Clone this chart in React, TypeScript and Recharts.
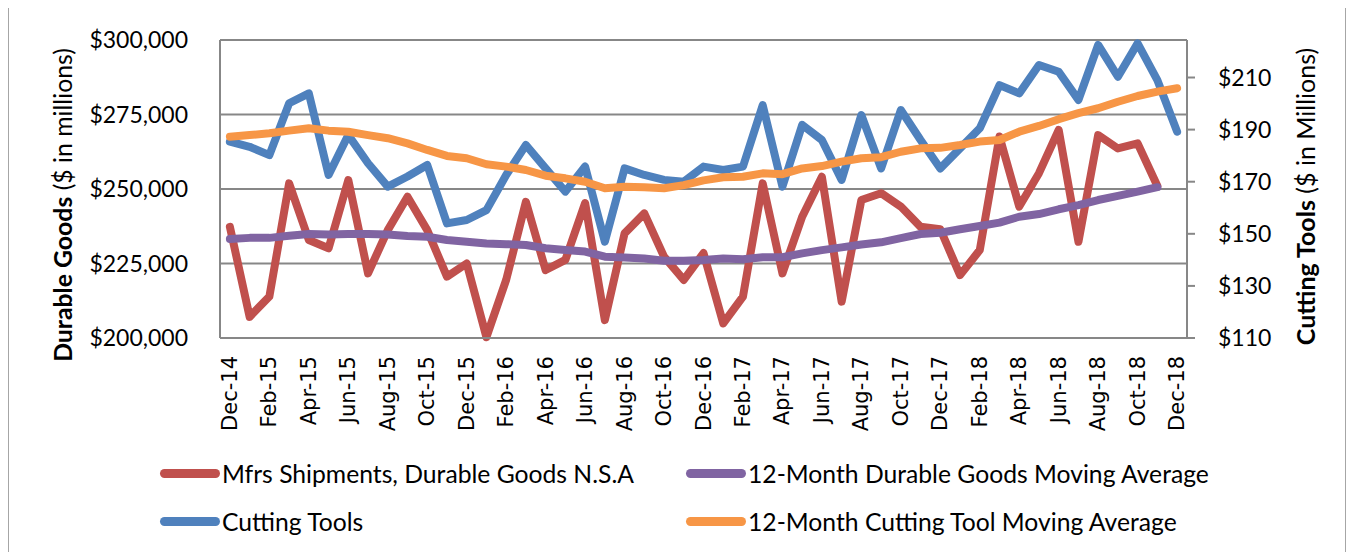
import React from "react";
import { LineChart, Line, XAxis, YAxis, CartesianGrid, Legend, Label } from "recharts";

const months = [
  "Dec-14","Jan-15","Feb-15","Mar-15","Apr-15","May-15","Jun-15","Jul-15","Aug-15","Sep-15","Oct-15","Nov-15",
  "Dec-15","Jan-16","Feb-16","Mar-16","Apr-16","May-16","Jun-16","Jul-16","Aug-16","Sep-16","Oct-16","Nov-16",
  "Dec-16","Jan-17","Feb-17","Mar-17","Apr-17","May-17","Jun-17","Jul-17","Aug-17","Sep-17","Oct-17","Nov-17",
  "Dec-17","Jan-18","Feb-18","Mar-18","Apr-18","May-18","Jun-18","Jul-18","Aug-18","Sep-18","Oct-18","Nov-18",
  "Dec-18",
];

const durableGoods = [
  237300, 207100, 213900, 251900, 232900, 230100, 253000, 221700, 236200, 247400, 236200, 220600,
  225000, 200300, 219500, 245700, 222800, 226200, 245300, 206000, 235100, 241800, 227300, 219500,
  228500, 204900, 213900, 251900, 221700, 240700, 254100, 212200, 246300, 248600, 244100, 237300,
  236500, 221100, 229500, 267600, 244100, 255300, 269800, 232300, 268100, 263600, 265300, 251000,
  null,
];

const durableAvg = [
  233200, 233600, 233600, 234300, 234900, 234700, 234900, 234900, 234700, 234200, 234000, 232900,
  232300, 231700, 231500, 231200, 230100, 229500, 229000, 227300, 227000, 226700, 225900, 225900,
  226200, 226700, 226400, 227100, 227100, 228400, 229500, 230400, 231400, 232100, 233500, 234900,
  235300, 236500, 237600, 238700, 240700, 241600, 243200, 244600, 246300, 247700, 249100, 250600,
  null,
];

const cuttingTools = [
  185.4, 183.4, 180.2, 200.1, 203.9, 172.6, 187.9, 177.1, 168.1, 172.0, 176.4, 154.0,
  155.3, 159.1, 172.6, 184.1, 175.1, 166.2, 175.8, 147.0, 175.1, 172.6, 170.7, 170.0,
  175.8, 174.5, 175.8, 199.4, 168.1, 191.8, 186.0, 170.7, 195.6, 175.1, 197.5, 186.0,
  175.1, 182.8, 190.5, 207.1, 203.9, 214.8, 212.2, 201.4, 222.5, 210.3, 223.1, 209.0,
  189.2,
];

const cuttingAvg = [
  187.3, 187.9, 188.6, 189.6, 190.5, 189.6, 189.2, 187.9, 186.7, 184.7, 182.2, 179.9,
  179.0, 176.7, 175.8, 174.5, 172.3, 171.3, 170.0, 167.5, 168.1, 167.9, 167.5, 168.7,
  170.5, 171.7, 171.9, 173.2, 172.9, 175.1, 176.0, 177.7, 179.0, 179.4, 181.5, 182.8,
  183.0, 184.1, 185.4, 186.0, 189.2, 191.4, 194.0, 196.3, 198.2, 200.7, 202.9, 204.6,
  205.9,
];

const leftTicks = [200000, 225000, 250000, 275000, 300000];
const rightTicks = [110, 130, 150, 170, 190, 210];

const seriesNames = {
  durable: "Mfrs Shipments, Durable Goods N.S.A",
  durableAvg: "12-Month Durable Goods Moving Average",
  cutting: "Cutting Tools",
  cuttingAvg: "12-Month Cutting Tool Moving Average",
};

const COLORS = {
  durable: "#C0504D",
  durableAvg: "#8064A2",
  cutting: "#4F81BD",
  cuttingAvg: "#F79646",
};

const data = months.map((m, i) => ({
  month: m,
  durable: durableGoods[i],
  durableAvg: durableAvg[i],
  cutting: cuttingTools[i],
  cuttingAvg: cuttingAvg[i],
}));

const GRID = "#878787";
const FONT = "Lato, 'Liberation Sans', sans-serif";

const fmtLeft = (v: number) => "$" + v.toLocaleString("en-US");
const fmtRight = (v: number) => "$" + v;

const XTick = (props: any) => {
  const { x, y, payload } = props;
  return (
    <text
      x={x}
      y={y}
      transform={`rotate(-90, ${x}, ${y})`}
      textAnchor="end"
      dominantBaseline="central"
      fontFamily="'DejaVu Sans', sans-serif"
      fontSize={21}
      fill="#000"
    >
      {payload.value}
    </text>
  );
};

const legendItems = [
  { key: "durable", left: 152, top: 0 },
  { key: "durableAvg", left: 678, top: 0 },
  { key: "cutting", left: 152, top: 48 },
  { key: "cuttingAvg", left: 678, top: 48 },
];

const LegendContent = () => (
  <div style={{ position: "relative", width: 1338, height: 80 }}>
    {legendItems.map((it) => (
      <div
        key={it.key}
        style={{
          position: "absolute",
          left: it.left,
          top: it.top,
          display: "flex",
          alignItems: "center",
          height: 30,
          whiteSpace: "nowrap",
        }}
      >
        <span
          style={{
            display: "inline-block",
            width: 60,
            height: 9,
            borderRadius: 5,
            background: (COLORS as any)[it.key],
            marginRight: 2,
          }}
        />
        <span style={{ fontFamily: FONT, fontSize: 24.7, color: "#000" }}>
          {(seriesNames as any)[it.key]}
        </span>
      </div>
    ))}
  </div>
);

export default function App() {
  return (
    <div style={{ position: "relative", width: 1338, height: 544 }}>
      <div
        style={{
          position: "absolute",
          left: -1,
          top: -8,
          width: 1340,
          height: 552,
          borderLeft: "2px solid #a6a6a6",
          borderRight: "2px solid #a6a6a6",
          boxSizing: "border-box",
          pointerEvents: "none",
        }}
      />
      <LineChart
        width={1338}
        height={544}
        data={data}
        margin={{ top: 32, right: 0, bottom: 34, left: 0 }}
      >
        <CartesianGrid
          yAxisId="left"
          vertical={false}
          horizontal={true}
          stroke={GRID}
          strokeWidth={2}
        />
        <XAxis
          dataKey="month"
          interval={1}
          height={100}
          tick={<XTick />}
          tickLine={false}
          axisLine={{ stroke: GRID, strokeWidth: 2 }}
          padding={{ left: 9.9, right: 9.9 }}
          tickMargin={12}
        />
        <YAxis
          yAxisId="left"
          orientation="left"
          width={212}
          domain={[200000, 300000]}
          ticks={leftTicks}
          tickFormatter={fmtLeft}
          tickLine={false}
          tickSize={0}
          tickMargin={32}
          axisLine={{ stroke: GRID, strokeWidth: 2 }}
          tick={{ fontFamily: FONT, fontSize: 23, fill: "#000" }}
        >
          <Label
            content={() => (
              <text
                x={54}
                y={197}
                transform="rotate(-90, 54, 197)"
                textAnchor="middle"
                dominantBaseline="central"
                fontFamily={FONT}
                fontSize={24.8}
                fill="#000"
              >
                <tspan fontWeight="bold">Durable Goods</tspan>
                <tspan> ($ in millions)</tspan>
              </text>
            )}
          />
        </YAxis>
        <YAxis
          yAxisId="right"
          orientation="right"
          width={159}
          domain={[110, 224.4]}
          ticks={rightTicks}
          tickFormatter={fmtRight}
          tickSize={8}
          tickMargin={23}
          tickLine={{ stroke: GRID, strokeWidth: 2 }}
          axisLine={{ stroke: GRID, strokeWidth: 2 }}
          tick={{ fontFamily: FONT, fontSize: 23, fill: "#000" }}
        >
          <Label
            content={() => (
              <text
                x={1297}
                y={188.5}
                transform="rotate(-90, 1297, 188.5)"
                textAnchor="middle"
                dominantBaseline="central"
                fontFamily={FONT}
                fontSize={25}
                fill="#000"
              >
                <tspan fontWeight="bold">Cutting Tools</tspan>
                <tspan> ($ in Millions)</tspan>
              </text>
            )}
          />
        </YAxis>
        <Line
          yAxisId="left"
          type="linear"
          dataKey="durable"
          name={seriesNames.durable}
          stroke={COLORS.durable}
          strokeWidth={8}
          dot={false}
          strokeLinejoin="round"
          strokeLinecap="round"
          isAnimationActive={false}
        />
        <Line
          yAxisId="left"
          type="linear"
          dataKey="durableAvg"
          name={seriesNames.durableAvg}
          stroke={COLORS.durableAvg}
          strokeWidth={8}
          dot={false}
          strokeLinejoin="round"
          strokeLinecap="round"
          isAnimationActive={false}
        />
        <Line
          yAxisId="right"
          type="linear"
          dataKey="cutting"
          name={seriesNames.cutting}
          stroke={COLORS.cutting}
          strokeWidth={8}
          dot={false}
          strokeLinejoin="round"
          strokeLinecap="round"
          isAnimationActive={false}
        />
        <Line
          yAxisId="right"
          type="linear"
          dataKey="cuttingAvg"
          name={seriesNames.cuttingAvg}
          stroke={COLORS.cuttingAvg}
          strokeWidth={8}
          dot={false}
          strokeLinejoin="round"
          strokeLinecap="round"
          isAnimationActive={false}
        />
        <Legend
          content={<LegendContent />}
          wrapperStyle={{ position: "absolute", left: 0, top: 450, width: 1338 }}
        />
      </LineChart>
    </div>
  );
}
